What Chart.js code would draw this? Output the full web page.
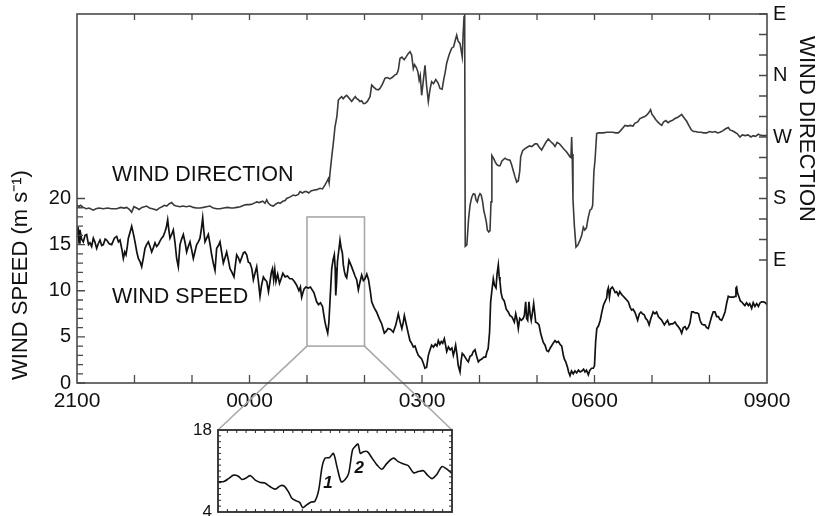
<!DOCTYPE html>
<html><head><meta charset="utf-8">
<script src="https://cdn.jsdelivr.net/npm/chart.js@4.4.1/dist/chart.umd.min.js"></script>
<style>
html,body{margin:0;padding:0;background:#fff;overflow:hidden;width:826px;height:516px;}
#main{position:absolute;left:0;top:0;}
#inset{position:absolute;left:180px;top:415px;}
</style></head><body>
<canvas id="main" width="826" height="516"></canvas>
<canvas id="inset" width="290" height="115"></canvas>
<script>
// ---- tick values & labels ----
const hourTicks = [0, 3, 6, 9, 12];                 // hours after 2100
const timeLabels = ['2100', '0000', '0300', '0600', '0900'];
const speedTicks = [0, 5, 10, 15, 20];
const dirTicks = [90, 180, 270, 360, 450];           // degrees (unwrapped)
const dirLabels = ['E', 'S', 'W', 'N', 'E'];
const insetTicks = [4, 18];

// ---- zoom window (hours, m/s) ----
const zoomHours = [4, 5];
const zoomSpeeds = [4, 18];

// ---- wind speed [hours after 2100, m/s] ----
const speedSeries = [
[0,15.8],[0.02,16.9],[0.035,15.2],[0.052,16.6],[0.08,15.6],[0.11,15.3],[0.14,16.0],[0.168,16.1],[0.2,15.0],[0.226,15.2],
[0.255,14.8],[0.284,15.7],[0.31,15.3],[0.342,14.6],[0.37,15.1],[0.4,15.5],[0.43,14.9],[0.458,15.0],[0.49,15.6],[0.516,15.5],
[0.56,15.1],[0.603,15.0],[0.65,15.7],[0.69,15.9],[0.72,15.3],[0.748,15.5],[0.78,14.5],[0.806,13.5],[0.83,14.2],[0.852,13.9],
[0.875,14.8],[0.893,15.7],[0.925,16.4],[0.951,17.0],[0.98,16.2],[1.009,15.3],[1.04,14.2],[1.067,13.5],[1.1,13.1],[1.125,12.6],
[1.155,13.6],[1.183,14.6],[1.21,15.0],[1.241,15.3],[1.27,14.8],[1.299,14.2],[1.33,14.7],[1.357,15.2],[1.385,14.8],[1.414,15.0],
[1.445,15.4],[1.472,15.7],[1.5,15.9],[1.53,16.4],[1.555,16.9],[1.577,17.7],[1.597,16.6],[1.617,15.7],[1.645,16.1],[1.675,16.6],
[1.705,15.2],[1.733,13.5],[1.762,12.6],[1.791,15.0],[1.82,15.6],[1.849,16.1],[1.88,15.2],[1.907,14.2],[1.935,14.8],[1.965,15.3],
[1.995,14.4],[2.023,13.5],[2.05,14.2],[2.081,15.0],[2.11,15.3],[2.139,15.7],[2.165,16.8],[2.186,17.9],[2.205,16.5],[2.226,15.3],
[2.255,15.7],[2.284,16.1],[2.315,15.0],[2.342,13.9],[2.37,13.0],[2.4,12.2],[2.429,14.6],[2.46,14.9],[2.487,15.3],[2.515,14.2],
[2.545,13.0],[2.575,13.6],[2.603,14.2],[2.63,13.4],[2.661,12.4],[2.695,12.0],[2.73,11.5],[2.755,12.8],[2.777,13.9],[2.805,13.6],
[2.835,13.1],[2.865,13.6],[2.893,14.1],[2.92,14.2],[2.951,13.9],[2.98,13.1],[3.009,13.0],[3.04,12.4],[3.067,11.2],[3.095,11.9],
[3.125,12.6],[3.155,11.0],[3.183,9.4],[3.21,10.6],[3.241,11.5],[3.27,11.2],[3.3,11.0],[3.33,9.9],[3.357,11.0],[3.38,12.0],
[3.4,12.4],[3.42,11.2],[3.44,12.3],[3.46,11.0],[3.49,11.8],[3.522,10.8],[3.55,11.3],[3.58,11.9],[3.62,11.5],[3.66,11.6],
[3.7,11.3],[3.74,11.3],[3.78,11.0],[3.82,10.6],[3.86,10.0],[3.885,10.4],[3.907,9.3],[3.93,9.8],[3.95,10.2],[3.98,10.4],
[4.023,10.3],[4.06,10.4],[4.09,10.1],[4.12,9.8],[4.168,8.8],[4.2,8.5],[4.235,8.7],[4.27,8.3],[4.29,7.5],[4.313,6.6],
[4.335,6.0],[4.36,5.4],[4.38,6.5],[4.4,8.9],[4.43,12.4],[4.455,13.4],[4.475,13.9],[4.49,12.5],[4.5,9.5],[4.515,11.0],
[4.53,13.2],[4.55,14.2],[4.574,15.5],[4.595,14.6],[4.615,14.1],[4.632,12.8],[4.65,12.1],[4.67,11.6],[4.69,11.4],[4.71,12.3],
[4.73,13.3],[4.77,12.7],[4.806,12.1],[4.835,11.6],[4.864,11.2],[4.893,10.1],[4.92,10.9],[4.951,11.7],[4.98,11.1],[5.009,11.3],
[5.04,11.8],[5.07,11.2],[5.1,10.0],[5.125,8.8],[5.165,8.2],[5.21,7.7],[5.255,7.0],[5.3,6.4],[5.345,5.4],[5.375,5.6],
[5.41,5.9],[5.455,5.8],[5.5,5.5],[5.545,6.3],[5.588,7.5],[5.62,6.6],[5.65,5.9],[5.675,6.6],[5.693,7.3],[5.725,6.4],
[5.76,5.4],[5.79,4.6],[5.82,4.3],[5.85,3.9],[5.878,4.0],[5.91,3.4],[5.936,3.0],[5.965,2.8],[5.994,2.6],[6.02,2.2],
[6.052,1.6],[6.08,1.7],[6.11,3.0],[6.14,3.6],[6.168,4.1],[6.2,3.9],[6.23,4.2],[6.26,4.0],[6.284,4.6],[6.31,4.2],
[6.335,4.5],[6.36,4.3],[6.388,4.8],[6.41,4.1],[6.43,3.4],[6.46,3.9],[6.49,3.6],[6.52,3.8],[6.545,3.0],[6.565,3.5],
[6.585,4.1],[6.61,3.0],[6.63,1.9],[6.661,1.2],[6.68,2.4],[6.7,3.2],[6.73,3.0],[6.76,2.7],[6.78,2.5],[6.806,2.3],
[6.835,2.9],[6.865,3.0],[6.89,3.4],[6.922,3.6],[6.95,2.9],[6.98,2.3],[7.01,2.5],[7.04,2.6],[7.075,2.8],[7.107,2.8],
[7.13,3.4],[7.15,3.7],[7.175,5.5],[7.194,8.8],[7.215,10.0],[7.24,11.3],[7.26,10.6],[7.287,10.3],[7.305,11.8],[7.327,12.8],
[7.343,11.5],[7.356,11.0],[7.375,9.8],[7.397,9.2],[7.43,8.9],[7.465,8.0],[7.5,7.7],[7.53,7.3],[7.56,7.2],[7.585,6.9],
[7.606,6.6],[7.63,7.5],[7.655,6.8],[7.675,5.9],[7.7,7.0],[7.73,6.8],[7.76,7.0],[7.78,7.3],[7.803,8.8],[7.82,7.0],
[7.838,6.8],[7.86,8.8],[7.88,7.5],[7.9,6.8],[7.92,7.6],[7.942,8.6],[7.96,7.6],[7.977,6.6],[8.005,6.5],[8.035,6.3],
[8.06,5.5],[8.08,5.0],[8.11,4.4],[8.14,4.1],[8.17,3.5],[8.2,3.4],[8.23,3.8],[8.26,4.1],[8.29,4.4],[8.313,4.6],
[8.34,4.4],[8.37,4.5],[8.4,4.2],[8.43,4.0],[8.458,3.0],[8.475,2.6],[8.5,2.3],[8.53,1.7],[8.55,1.2],[8.574,0.8],
[8.6,1.3],[8.63,1.0],[8.66,1.3],[8.69,1.1],[8.72,1.4],[8.75,1.2],[8.78,1.3],[8.81,1.5],[8.835,1.2],[8.86,1.4],
[8.893,0.9],[8.92,1.4],[8.951,1.6],[8.98,1.6],[9.0,1.9],[9.02,4.5],[9.04,5.9],[9.07,6.2],[9.1,6.8],[9.125,7.6],
[9.154,8.4],[9.18,8.8],[9.212,9.2],[9.225,10.0],[9.24,10.3],[9.26,9.3],[9.28,10.2],[9.31,10.4],[9.33,10.2],[9.36,9.8],
[9.385,9.9],[9.414,9.5],[9.44,9.9],[9.47,9.6],[9.5,9.4],[9.53,9.2],[9.56,9.0],[9.588,8.8],[9.62,8.2],[9.646,7.9],
[9.67,8.0],[9.7,7.7],[9.725,7.3],[9.75,6.8],[9.78,7.5],[9.808,7.7],[9.835,7.5],[9.865,7.4],[9.89,7.0],[9.92,6.8],
[9.95,6.3],[9.98,7.0],[10.02,7.7],[10.05,7.5],[10.08,7.7],[10.11,7.2],[10.14,7.0],[10.17,6.8],[10.215,6.3],[10.245,6.6],
[10.27,6.8],[10.3,6.3],[10.33,6.4],[10.36,6.4],[10.4,6.6],[10.43,6.3],[10.458,6.1],[10.49,5.8],[10.516,5.4],[10.545,6.0],
[10.575,6.1],[10.6,5.8],[10.63,6.0],[10.66,6.5],[10.69,7.7],[10.72,7.7],[10.75,7.6],[10.78,7.6],[10.81,7.5],[10.835,6.8],
[10.864,6.4],[10.895,6.3],[10.92,6.3],[10.95,6.0],[10.98,5.9],[11.01,6.6],[11.037,7.2],[11.065,7.7],[11.095,7.7],[11.125,7.2],
[11.155,7.2],[11.18,6.9],[11.211,6.8],[11.24,7.2],[11.27,7.7],[11.3,8.7],[11.327,9.4],[11.36,9.3],[11.39,9.3],[11.42,9.3],
[11.445,9.4],[11.46,10.3],[11.472,10.4],[11.49,9.7],[11.515,9.3],[11.535,8.9],[11.559,8.8],[11.585,8.6],[11.615,8.4],[11.645,8.7],
[11.675,8.4],[11.7,8.6],[11.733,8.1],[11.76,8.7],[11.79,8.3],[11.82,8.6],[11.85,8.3],[11.88,8.7],[11.907,8.8],[11.94,8.8],
[11.97,8.7],[12,8.5]
];

// ---- wind direction [hours after 2100, degrees, unwrapped above 360] ----
const directionSeries = [
[0,171],[0.03,168],[0.06,170],[0.11,167],[0.16,165],[0.21,166],[0.284,163],[0.33,165],[0.38,166],[0.458,165],
[0.53,166],[0.6,165],[0.69,165],[0.76,167],[0.82,166],[0.864,167],[0.91,164],[0.951,160],[0.99,168],[1.038,166],
[1.08,164],[1.13,167],[1.212,169],[1.26,166],[1.31,165],[1.386,163],[1.43,166],[1.48,168],[1.52,170],[1.559,169],
[1.6,172],[1.646,174],[1.69,170],[1.73,169],[1.791,168],[1.84,169],[1.9,168],[1.965,169],[2.02,167],[2.08,166],
[2.139,166],[2.2,167],[2.25,168],[2.313,169],[2.37,166],[2.43,165],[2.487,165],[2.55,166],[2.62,167],[2.68,166],
[2.72,166],[2.78,167],[2.84,168],[2.9,170],[2.951,171],[3.0,171],[3.05,172],[3.1,174],[3.125,175],[3.17,174],
[3.23,176],[3.27,173],[3.299,178],[3.33,173],[3.37,170],[3.414,169],[3.46,172],[3.5,174],[3.53,173],[3.58,176],
[3.62,177],[3.646,180],[3.7,182],[3.762,185],[3.8,184],[3.85,186],[3.878,190],[3.92,188],[3.96,190],[3.994,190],
[4.03,188],[4.07,191],[4.11,192],[4.17,193],[4.226,195],[4.27,194],[4.313,200],[4.34,204],[4.371,209],[4.385,203],
[4.4,217],[4.43,241],[4.458,261],[4.487,285],[4.52,300],[4.545,324],[4.575,327],[4.603,329],[4.63,326],[4.66,329],
[4.69,331],[4.72,328],[4.75,325],[4.777,322],[4.81,326],[4.84,329],[4.864,326],[4.89,325],[4.92,322],[4.95,323],
[4.98,319],[5.01,319],[5.05,322],[5.096,329],[5.125,346],[5.16,343],[5.2,340],[5.24,339],[5.27,341],[5.31,347],
[5.357,356],[5.4,357],[5.44,355],[5.48,357],[5.53,361],[5.56,362],[5.588,368],[5.617,385],[5.65,387],[5.69,383],
[5.73,388],[5.76,392],[5.791,395],[5.82,390],[5.849,370],[5.87,376],[5.9,372],[5.93,365],[5.95,353],[5.97,360],
[5.994,331],[6.02,350],[6.052,375],[6.08,345],[6.11,322],[6.14,340],[6.168,351],[6.2,348],[6.24,354],[6.28,349],
[6.313,341],[6.35,340],[6.38,355],[6.4,363],[6.429,378],[6.47,390],[6.516,400],[6.55,402],[6.58,412],[6.603,419],
[6.63,410],[6.661,407],[6.69,392],[6.7,387],[6.715,420],[6.731,446],[6.742,452],[6.752,110],[6.78,112],[6.81,150],
[6.835,170],[6.865,182],[6.893,187],[6.92,186],[6.94,178],[6.962,175],[6.985,183],[7.009,187],[7.03,185],[7.055,175],
[7.075,162],[7.096,155],[7.12,145],[7.136,134],[7.16,131],[7.183,133],[7.2,175],[7.215,243],[7.25,238],[7.27,234],
[7.299,230],[7.33,228],[7.357,228],[7.39,235],[7.443,239],[7.48,237],[7.53,236],[7.56,229],[7.59,220],[7.617,212],
[7.647,204],[7.675,206],[7.7,220],[7.716,241],[7.75,250],[7.791,253],[7.83,255],[7.87,257],[7.91,256],[7.965,260],
[8.0,260],[8.04,255],[8.08,251],[8.12,257],[8.16,263],[8.197,267],[8.24,263],[8.28,260],[8.313,256],[8.35,262],
[8.39,260],[8.43,256],[8.47,252],[8.516,248],[8.55,244],[8.574,241],[8.59,240],[8.603,270],[8.612,245],[8.626,178],
[8.65,140],[8.678,109],[8.71,112],[8.748,119],[8.78,127],[8.806,138],[8.83,134],[8.86,137],[8.89,152],[8.922,163],
[8.95,165],[8.968,170],[8.99,220],[9.009,236],[9.038,275],[9.07,276],[9.096,276],[9.15,276],[9.212,277],[9.27,277],
[9.32,277],[9.37,276],[9.414,276],[9.45,279],[9.5,284],[9.53,287],[9.58,286],[9.62,287],[9.67,286],[9.7,290],
[9.75,292],[9.791,297],[9.84,299],[9.875,300],[9.907,302],[9.94,305],[9.975,310],[10.0,303],[10.03,300],[10.06,296],
[10.1,292],[10.14,289],[10.17,287],[10.2,292],[10.24,294],[10.28,291],[10.313,293],[10.35,294],[10.4,297],[10.45,299],
[10.5,302],[10.516,303],[10.55,299],[10.603,293],[10.64,287],[10.68,281],[10.719,278],[10.76,278],[10.8,277],[10.85,277],
[10.9,276],[10.951,276],[11.0,278],[11.05,277],[11.1,278],[11.14,276],[11.18,277],[11.23,279],[11.28,282],[11.327,284],
[11.36,280],[11.4,279],[11.44,277],[11.48,275],[11.53,270],[11.57,273],[11.62,272],[11.67,273],[11.72,270],[11.76,272],
[11.8,271],[11.849,274],[11.88,273],[11.92,272],[11.96,272],[12,272]
];

// ---- inset: smoothed wind speed [minutes after 0100, m/s] ----
const insetSeries = [
[0,9.15],[1.5,9.2],[2.7,9.7],[4.0,10.3],[5.2,10.1],[6.15,9.55],[7.2,9.8],[8.3,10.2],[9.55,9.45],[10.85,9.05],
[12.0,8.95],[13.4,8.3],[14.7,7.9],[16.0,8.5],[17.0,8.4],[18.1,7.4],[19.0,6.3],[20.25,5.85],[21.0,5.6],[21.7,4.75],
[22.8,5.25],[23.9,5.7],[24.8,5.8],[25.8,7.7],[26.7,11.75],[27.5,13.2],[28.6,13.3],[29.6,14.0],[30.5,11.75],[31.6,9.15],
[32.6,9.55],[33.5,10.6],[34.5,14.6],[35.2,15.2],[35.9,15.6],[36.5,14.0],[37.3,14.3],[38.3,14.3],[39.5,13.2],[40.8,12.0],
[42.05,11.3],[43.3,12.3],[45.0,13.2],[46.2,12.6],[47.6,12.2],[48.8,11.9],[50.15,10.7],[51.3,10.9],[52.7,11.05],[53.7,10.3],
[54.9,9.7],[56.1,10.4],[57.4,11.75],[58.5,11.4],[59.8,10.7],[60,10.6]
];
const insetMarks = [{text:'1', x:28.2, y:8.9}, {text:'2', x:36.2, y:11.5}];

const FONT = "'Liberation Sans', Arial, Helvetica, sans-serif";
const TEXT = '#111';
const FRAME = '#4a4a4a';

function seg(ctx, x1, y1, x2, y2) { ctx.moveTo(x1, y1); ctx.lineTo(x2, y2); }

// ---------------- inset chart ----------------
const insetDecor = {
  id: 'insetDecor',
  afterDraw(chart) {
    const {ctx, chartArea: a, scales: {x, y}} = chart;
    ctx.save();
    ctx.strokeStyle = '#2a2a2a';
    ctx.lineWidth = 1.8;
    ctx.strokeRect(a.left, a.top, a.right - a.left, a.bottom - a.top);
    ctx.lineWidth = 1;
    ctx.beginPath();
    for (let i = 1; i < 25; i++) {
      const px = x.getPixelForValue(i * 2.4);
      seg(ctx, px, a.top, px, a.top + 3);
      seg(ctx, px, a.bottom, px, a.bottom - 3);
    }
    for (let v = 5; v < 18; v++) {
      const py = y.getPixelForValue(v);
      seg(ctx, a.left, py, a.left + 3, py);
      seg(ctx, a.right, py, a.right - 3, py);
    }
    ctx.stroke();
    ctx.fillStyle = '#111';
    ctx.font = 'italic bold 17px ' + FONT;
    ctx.textAlign = 'center';
    ctx.textBaseline = 'middle';
    insetMarks.forEach(m => ctx.fillText(m.text, x.getPixelForValue(m.x), y.getPixelForValue(m.y)));
    ctx.restore();
  }
};

const insetChart = new Chart(document.getElementById('inset'), {
  type: 'line',
  data: {datasets: [{
    data: insetSeries.map(([m, v]) => ({x: m, y: v})),
    borderColor: '#111', borderWidth: 1.6, pointRadius: 0, tension: 0.3, fill: false
  }]},
  options: {
    responsive: false, animation: false, events: [],
    layout: {padding: {top: 15, right: 18, bottom: 18, left: 0}},
    scales: {
      x: {type: 'linear', min: 0, max: 60, display: false},
      y: {
        type: 'linear', min: 4, max: 18,
        afterBuildTicks(s) { s.ticks = insetTicks.map(v => ({value: v})); },
        ticks: {font: {size: 17, family: FONT}, color: TEXT, padding: 6},
        grid: {display: false, drawTicks: false}, border: {display: false},
        afterFit(s) { s.width = 38; s.paddingTop = 0; s.paddingBottom = 0; }
      }
    },
    plugins: {legend: {display: false}, tooltip: {enabled: false}}
  },
  plugins: [insetDecor]
});

// ---------------- main chart ----------------
const insetCanvas = document.getElementById('inset');
const mainDecor = {
  id: 'mainDecor',
  beforeDatasetsDraw(chart) {
    const {ctx, scales: {x, y}} = chart;
    const l = x.getPixelForValue(zoomHours[0]), r = x.getPixelForValue(zoomHours[1]);
    const t = y.getPixelForValue(zoomSpeeds[1]), b = y.getPixelForValue(zoomSpeeds[0]);
    const ia = insetChart.chartArea;
    const ox = insetCanvas.offsetLeft, oy = insetCanvas.offsetTop;
    ctx.save();
    ctx.strokeStyle = '#a9a9a9';
    ctx.lineWidth = 1.6;
    ctx.strokeRect(l, t, r - l, b - t);
    ctx.beginPath();
    seg(ctx, l, b, ox + ia.left, oy + ia.top);
    seg(ctx, r, b, ox + ia.right, oy + ia.top);
    ctx.stroke();
    ctx.restore();
  },
  afterDraw(chart) {
    const {ctx, chartArea: a, scales: {x, y, y2}} = chart;
    ctx.save();
    ctx.strokeStyle = FRAME;
    ctx.lineWidth = 1.6;
    ctx.strokeRect(a.left, a.top, a.right - a.left, a.bottom - a.top);
    ctx.lineWidth = 1.3;
    ctx.beginPath();
    for (let h = 1; h < 12; h++) {
      const px = x.getPixelForValue(h);
      seg(ctx, px, a.bottom, px, a.bottom - 8);
      seg(ctx, px, a.top, px, a.top + 6);
    }
    for (let v = 0; v <= 20; v++) {
      const py = y.getPixelForValue(v);
      seg(ctx, a.left, py, a.left + (v % 5 === 0 ? 8 : 6), py);
    }
    for (let d = 90; d <= 450; d += 30) {
      const py = y2.getPixelForValue(d);
      seg(ctx, a.right, py, a.right - 8, py);
    }
    ctx.stroke();

    ctx.fillStyle = TEXT;
    ctx.textBaseline = 'alphabetic';
    ctx.textAlign = 'left';
    ctx.font = '21.5px ' + FONT;
    ctx.fillText('WIND DIRECTION', 112, 181);
    ctx.fillText('WIND SPEED', 112, 303);

    ctx.font = '22px ' + FONT;
    ctx.textAlign = 'center';
    ctx.save();
    ctx.translate(26.5, 275);
    ctx.rotate(-Math.PI / 2);
    ctx.fillText('WIND SPEED (m s\u207B\u00B9)', 0, 0);
    ctx.restore();
    ctx.save();
    ctx.translate(800, 129);
    ctx.rotate(Math.PI / 2);
    ctx.fillText('WIND DIRECTION', 0, 0);
    ctx.restore();
    ctx.restore();
  }
};

new Chart(document.getElementById('main'), {
  type: 'line',
  data: {datasets: [
    {label: 'Wind direction', data: directionSeries.map(([t, d]) => ({x: t, y: d})), yAxisID: 'y2',
     borderColor: '#3a3a3a', borderWidth: 1.6, pointRadius: 0, tension: 0, fill: false},
    {label: 'Wind speed', data: speedSeries.map(([t, v]) => ({x: t, y: v})), yAxisID: 'y',
     borderColor: '#111', borderWidth: 1.7, pointRadius: 0, tension: 0, fill: false}
  ]},
  options: {
    responsive: false, animation: false, events: [],
    layout: {padding: {top: 14, right: 0, bottom: 103, left: 0}},
    scales: {
      x: {
        type: 'linear', position: 'bottom', min: 0, max: 12,
        afterBuildTicks(s) { s.ticks = hourTicks.map(v => ({value: v})); },
        ticks: {font: {size: 21, family: FONT}, color: TEXT, padding: 6, maxRotation: 0, autoSkip: false,
                callback: (v) => timeLabels[hourTicks.indexOf(v)]},
        grid: {display: false, drawTicks: false}, border: {display: false},
        afterFit(s) { s.height = 30; s.paddingLeft = 0; s.paddingRight = 0; }
      },
      y: {
        type: 'linear', position: 'left', min: 0, max: 40,
        afterBuildTicks(s) { s.ticks = speedTicks.map(v => ({value: v})); },
        ticks: {font: {size: 20, family: FONT}, color: TEXT, padding: 6},
        grid: {display: false, drawTicks: false}, border: {display: false},
        afterFit(s) { s.width = 77; s.paddingTop = 0; s.paddingBottom = 0; }
      },
      y2: {
        type: 'linear', position: 'right', min: -90, max: 450,
        afterBuildTicks(s) { s.ticks = dirTicks.map(v => ({value: v})); },
        ticks: {font: {size: 20, family: FONT}, color: TEXT, padding: 6,
                callback: (v) => dirLabels[dirTicks.indexOf(v)]},
        grid: {display: false, drawTicks: false}, border: {display: false},
        afterFit(s) { s.width = 59; s.paddingTop = 0; s.paddingBottom = 0; }
      }
    },
    plugins: {legend: {display: false}, tooltip: {enabled: false}}
  },
  plugins: [mainDecor]
});
</script>
</body></html>
